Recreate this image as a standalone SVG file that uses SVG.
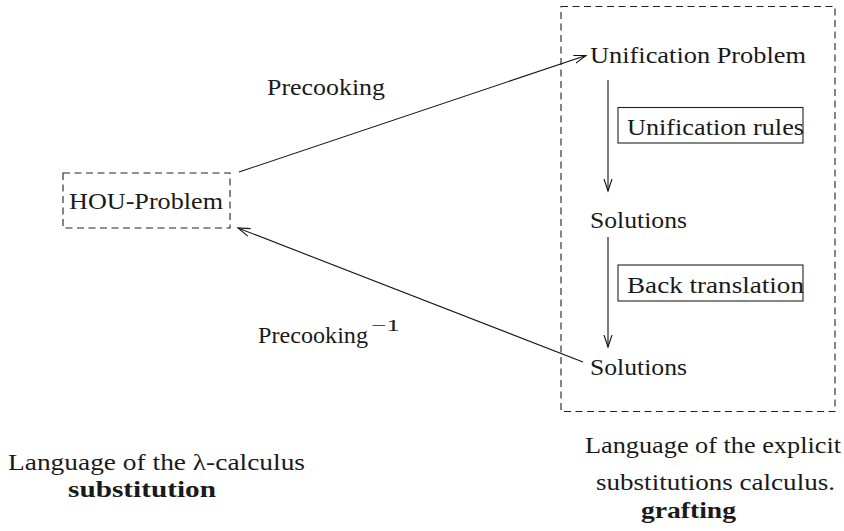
<svg xmlns="http://www.w3.org/2000/svg" width="844" height="531" viewBox="0 0 844 531">
<style>
text{font-family:"Liberation Serif","Times New Roman",Times,"Nimbus Roman","Noto Serif","DejaVu Serif",FreeSerif,serif;font-size:23px;fill:#1a1a1a}
.b{font-weight:bold}
.dash{fill:none;stroke:#222;stroke-width:1.1;stroke-dasharray:7 4.5}
.box{fill:none;stroke:#222;stroke-width:1.1}
.con{fill:none;stroke:#111;stroke-width:1.1}
</style>
<defs>
<marker id="ah" markerWidth="14" markerHeight="10" refX="12" refY="5" orient="auto" markerUnits="userSpaceOnUse">
<path d="M0,1 L12,5 L0,9" fill="none" stroke="#111" stroke-width="1.1"/>
</marker>
</defs>
<rect width="844" height="531" fill="#fff"/>
<g id="explicit-region">
<rect class="dash" x="561" y="6.5" width="274" height="405"/>
</g>
<g id="hou-problem">
<rect class="dash" x="63" y="173" width="167" height="55"/>
<text x="69" y="209" textLength="154" lengthAdjust="spacingAndGlyphs">HOU-Problem</text>
</g>
<g id="unification-problem">
<text x="590" y="63" textLength="216" lengthAdjust="spacingAndGlyphs">Unification Problem</text>
</g>
<g id="unification-rules">
<rect class="box" x="618" y="107.5" width="185" height="35.5"/>
<text x="627" y="135" textLength="177" lengthAdjust="spacingAndGlyphs">Unification rules</text>
</g>
<g id="solutions-1">
<text x="590" y="228" textLength="97" lengthAdjust="spacingAndGlyphs">Solutions</text>
</g>
<g id="back-translation">
<rect class="box" x="618" y="265" width="185" height="36"/>
<text x="627" y="293" textLength="177" lengthAdjust="spacingAndGlyphs">Back translation</text>
</g>
<g id="solutions-2">
<text x="590" y="375" textLength="97" lengthAdjust="spacingAndGlyphs">Solutions</text>
</g>
<g id="connectors">
<line class="con" x1="239" y1="172" x2="586" y2="55.5" marker-end="url(#ah)"/>
<line class="con" x1="583" y1="362" x2="238" y2="228" marker-end="url(#ah)"/>
<line class="con" x1="608" y1="80" x2="608" y2="191" marker-end="url(#ah)"/>
<line class="con" x1="608" y1="237" x2="608" y2="347" marker-end="url(#ah)"/>
</g>
<g id="labels">
<text x="267" y="95" textLength="118" lengthAdjust="spacingAndGlyphs">Precooking</text>
<text x="258" y="343" textLength="110" lengthAdjust="spacingAndGlyphs">Precooking</text>
<text x="371" y="331" style="font-size:16px" textLength="29" lengthAdjust="spacingAndGlyphs">−1</text>
<text x="8" y="470" textLength="297" lengthAdjust="spacingAndGlyphs">Language of the λ-calculus</text>
<text class="b" x="68" y="497" textLength="148" lengthAdjust="spacingAndGlyphs">substitution</text>
<text x="585" y="453" textLength="256" lengthAdjust="spacingAndGlyphs">Language of the explicit</text>
<text x="596" y="490" textLength="239" lengthAdjust="spacingAndGlyphs">substitutions calculus.</text>
<text class="b" x="641" y="518" textLength="95" lengthAdjust="spacingAndGlyphs">grafting</text>
</g>
</svg>
